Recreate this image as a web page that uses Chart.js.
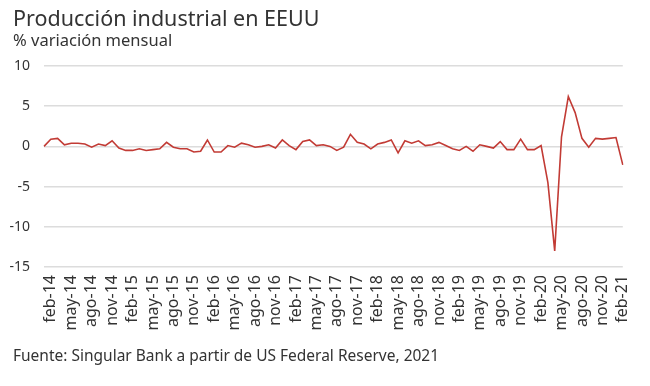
<!DOCTYPE html>
<html>
<head>
<meta charset="utf-8">
<script src="https://cdn.jsdelivr.net/npm/chart.js@4.4.1/dist/chart.umd.min.js"></script>
<style>
  body { margin: 0; background: #fff; font-family: "Noto Sans", sans-serif; color: #333; }
  #wrap { position: relative; width: 650px; height: 386px; }
  .title { position: absolute; left: 13px; top: 3px; font-size: 21.5px; }
  .sub { position: absolute; left: 13px; top: 28px; font-size: 16.5px; }
  .foot { position: absolute; left: 13px; top: 344px; font-size: 15.5px; }
  #box { position: absolute; left: 0; top: 0; width: 650px; height: 386px; }
</style>
</head>
<body>
<div id="wrap">
  <div id="box"><canvas id="chartIP"></canvas></div>
  <div class="title">Producción industrial en EEUU</div>
  <div class="sub">% variación mensual</div>
  <div class="foot">Fuente: Singular Bank a partir de US Federal Reserve, 2021</div>
</div>
<script>
// meses ene-14 .. feb-21
const months = [
  "ene-14", "feb-14", "mar-14", "abr-14", "may-14", "jun-14", "jul-14", "ago-14", "sep-14", "oct-14", "nov-14", "dic-14",
  "ene-15", "feb-15", "mar-15", "abr-15", "may-15", "jun-15", "jul-15", "ago-15", "sep-15", "oct-15", "nov-15", "dic-15",
  "ene-16", "feb-16", "mar-16", "abr-16", "may-16", "jun-16", "jul-16", "ago-16", "sep-16", "oct-16", "nov-16", "dic-16",
  "ene-17", "feb-17", "mar-17", "abr-17", "may-17", "jun-17", "jul-17", "ago-17", "sep-17", "oct-17", "nov-17", "dic-17",
  "ene-18", "feb-18", "mar-18", "abr-18", "may-18", "jun-18", "jul-18", "ago-18", "sep-18", "oct-18", "nov-18", "dic-18",
  "ene-19", "feb-19", "mar-19", "abr-19", "may-19", "jun-19", "jul-19", "ago-19", "sep-19", "oct-19", "nov-19", "dic-19",
  "ene-20", "feb-20", "mar-20", "abr-20", "may-20", "jun-20", "jul-20", "ago-20", "sep-20", "oct-20", "nov-20", "dic-20",
  "ene-21", "feb-21",
];

const variacion = [
  0.0, 0.9, 1.0, 0.2, 0.4, 0.4, 0.3, -0.1, 0.3, 0.1, 0.7, -0.2,
  -0.5, -0.5, -0.3, -0.5, -0.4, -0.3, 0.5, -0.1, -0.3, -0.3, -0.7, -0.6,
  0.8, -0.7, -0.7, 0.1, -0.1, 0.4, 0.2, -0.1, 0.0, 0.2, -0.2, 0.8,
  0.1, -0.4, 0.6, 0.8, 0.1, 0.2, 0.0, -0.5, -0.1, 1.5, 0.5, 0.3,
  -0.3, 0.3, 0.5, 0.8, -0.8, 0.7, 0.4, 0.7, 0.1, 0.2, 0.5, 0.1,
  -0.3, -0.5, 0.0, -0.6, 0.2, 0.0, -0.2, 0.6, -0.4, -0.4, 0.9, -0.4,
  -0.4, 0.1, -4.5, -13.0, 1.2, 6.2, 4.2, 1.0, -0.1, 1.0, 0.9, 1.0,
  1.1, -2.3,
];

const yTicks = [10, 5, 0, -5, -10, -15];

const ctx = document.getElementById("chartIP").getContext("2d");

new Chart(ctx, {
  type: "line",
  data: {
    labels: months,
    datasets: [
      {
        data: variacion,
        borderColor: "#c23b35",
        borderWidth: 1.6,
        pointRadius: 0,
        tension: 0,
        fill: false,
      },
    ],
  },
  options: {
    animation: false,
    responsive: true,
    maintainAspectRatio: false,
    layout: {
      padding: { top: 66, bottom: 50, left: 0, right: 26 },
    },
    plugins: {
      legend: { display: false },
      tooltip: { enabled: false },
    },
    scales: {
      x: {
        grid: { display: false, drawTicks: false },
        border: { display: false },
        afterFit: (scale) => { scale.height = 69; },
        ticks: {
          autoSkip: false,
          minRotation: 90,
          maxRotation: 90,
          padding: 8,
          color: "#333",
          font: { family: "Noto Sans", size: 16 },
          callback: function (val, i) {
            return (i - 1) % 3 === 0 ? months[i] : "";
          },
        },
      },
      y: {
        min: -15,
        max: 10,
        afterFit: (scale) => { scale.width = 44; },
        afterBuildTicks: (scale) => {
          scale.ticks = yTicks.map((v) => ({ value: v }));
        },
        grid: { color: "#dcdcdc", lineWidth: 1.5, drawTicks: false },
        border: { display: false },
        ticks: {
          padding: 14,
          color: "#333",
          font: { family: "Noto Sans", size: 14 },
        },
      },
    },
  },
});
</script>
</body>
</html>
